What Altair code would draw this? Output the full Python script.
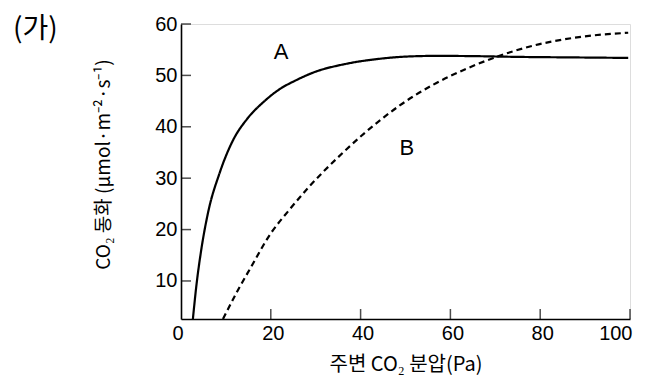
import altair as alt
import pandas as pd

# Curve A (solid)
a_x = [2.65, 3.4, 4.5, 6.0, 8.6, 11.6, 14.7, 18.6, 22.1, 25.5, 29.6, 36.5, 43.9, 50.0, 57.0, 65.0, 75.0, 87.0, 99.6]
a_y = [2.6, 8.9, 16.0, 23.2, 31.0, 37.4, 41.5, 45.0, 47.4, 49.0, 50.6, 52.2, 53.2, 53.65, 53.8, 53.75, 53.6, 53.5, 53.4]
# Curve B (dashed)
b_x = [9.35, 12.7, 15.4, 20.1, 23.8, 28.5, 36.1, 45.1, 48.8, 56.2, 63.6, 69.6, 78.5, 87.4, 99.6]
b_y = [2.6, 8.25, 12.4, 19.4, 23.5, 28.3, 35.0, 41.8, 44.2, 48.2, 51.3, 53.4, 55.8, 57.3, 58.3]

x_ticks = [0, 20, 40, 60, 80, 100]
y_ticks = [10, 20, 30, 40, 50, 60]
y_min, y_max = 2.6, 60

label_names = ["A", "B"]
label_x = [22.3, 50.3]
label_y = [54.6, 35.8]

df = pd.concat([
    pd.DataFrame({"x": a_x, "y": a_y, "series": "A"}),
    pd.DataFrame({"x": b_x, "y": b_y, "series": "B"}),
])
labels = pd.DataFrame({"x": label_x, "y": label_y, "t": label_names})
xt = pd.DataFrame({"v": [v for v in x_ticks if v != 0]})
yt = pd.DataFrame({"v": y_ticks})

NUM_FONT = "Liberation Sans"
KR_FONT = "Noto Sans CJK KR"

xscale = alt.Scale(domain=[0, 100], nice=False, zero=False)
yscale = alt.Scale(domain=[y_min, y_max], nice=False, zero=False)

xaxis = alt.Axis(
    values=x_ticks, ticks=False, grid=False, domainColor="black", domainWidth=1.6,
    labelFont=NUM_FONT, labelFontSize=20, labelColor="black", labelPadding=4,
    labelOffset={"expr": "datum.value == 0 ? -9 : 2"},
    title="주변 CO₂ 분압(Pa)", titleFont=KR_FONT, titleFontSize=20,
    titleFontWeight="normal", titleColor="black", titlePadding=11,
)
yaxis = alt.Axis(
    values=y_ticks, ticks=False, grid=False, domainColor="black", domainWidth=1.6,
    labelFont=NUM_FONT, labelFontSize=20, labelColor="black", labelPadding=4,
    title="CO₂ 동화 (μmol·m⁻²·s⁻¹)", titleFont=KR_FONT, titleFontSize=19,
    titleFontWeight="normal", titleColor="black", titlePadding=41, titleY=140,
)

lines = alt.Chart(df).mark_line(color="black", strokeWidth=2.2, clip=True, interpolate="monotone").encode(
    x=alt.X("x:Q", scale=xscale, axis=xaxis),
    y=alt.Y("y:Q", scale=yscale, axis=yaxis),
    strokeDash=alt.StrokeDash(
        "series:N",
        scale=alt.Scale(domain=["A", "B"], range=[[1, 0], [6, 4]]),
        legend=None,
    ),
    detail="series:N",
)

text = alt.Chart(labels).mark_text(font=NUM_FONT, fontSize=22, color="black").encode(
    x=alt.X("x:Q", scale=xscale), y=alt.Y("y:Q", scale=yscale), text="t:N"
)

xticks = alt.Chart(xt).mark_tick(orient="vertical", size=10, thickness=1.5, color="black", yOffset=-5).encode(
    x=alt.X("v:Q", scale=xscale), y=alt.datum(y_min)
)
yticks = alt.Chart(yt).mark_tick(orient="horizontal", size=10, thickness=1.5, color="black", xOffset=5).encode(
    y=alt.Y("v:Q", scale=yscale), x=alt.datum(0)
)

chart = alt.layer(lines, text, xticks, yticks).properties(
    width=449, height=295,
    autosize=alt.AutoSizeParams(type="none"),
    padding={"left": 181, "top": 24, "right": 28, "bottom": 61},
    title=alt.TitleParams(
        "(가)", anchor="start", frame="group", dx=-168, dy=30, offset=0,
        font=KR_FONT, fontSize=28, fontWeight="normal", color="black",
    ),
).configure_view(stroke=None).configure(background="white")

chart.save("out.html", embed_options={"renderer": "svg", "actions": False})
